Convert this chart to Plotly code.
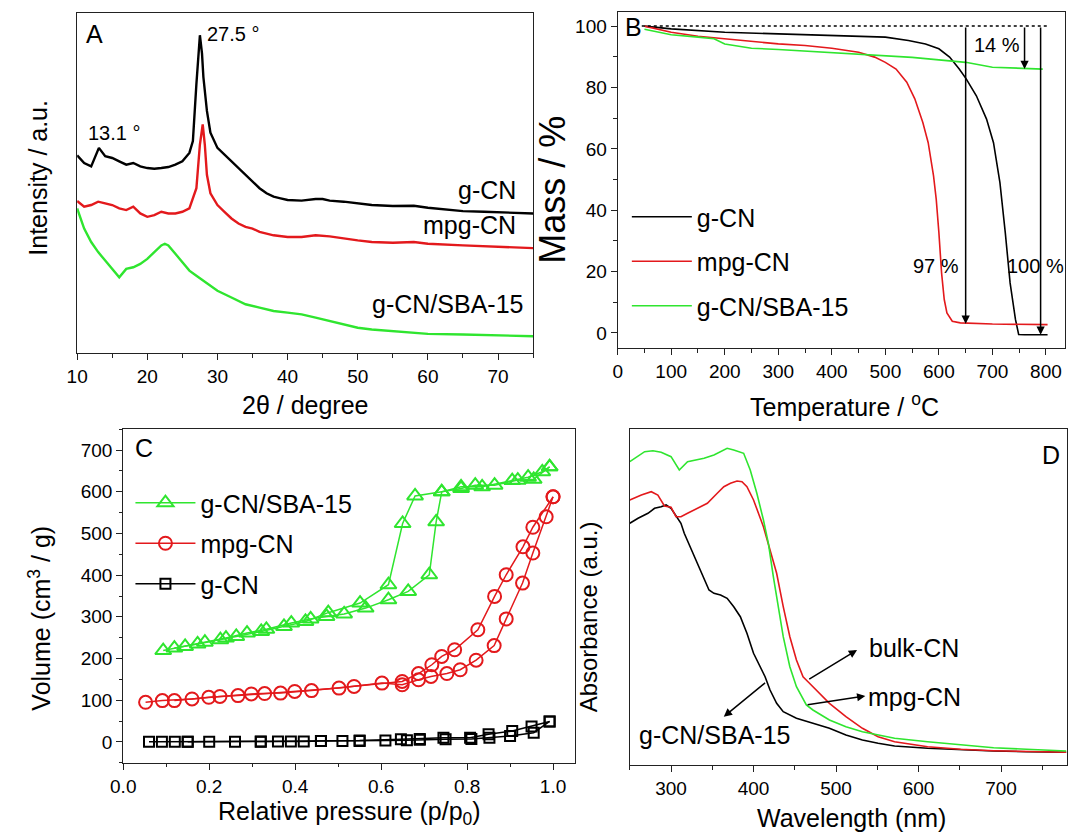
import plotly.graph_objects as go

FONT = "Liberation Sans, Arial, sans-serif"
BLACK = "#000000"
RED = "#e3191c"
GREEN = "#2fe52f"

# ---------------- Panel A : XRD ----------------
xrd_gcn_2theta = [10, 11, 12, 13.1, 14, 15, 16, 17, 18, 19, 20, 21, 22, 23, 24, 25, 26, 26.5, 27, 27.3, 27.5,
                  27.8, 28, 28.5, 29, 30, 31, 32, 33, 34, 35, 36, 37, 38, 39, 40, 42, 44, 45, 46, 48, 50, 52,
                  55, 58, 60, 62, 65, 68, 70, 72, 75]
xrd_gcn_int = [58.8, 56.5, 55.5, 61, 58.5, 58, 57, 56, 56.5, 55.5, 55, 54.8, 55, 55.3, 56, 57, 59.5, 63, 80, 91,
               94.5, 89, 82, 72, 65.5, 61, 59, 57, 55, 53, 51, 49, 47.5, 46.5, 46, 45.5, 45.3, 45.8, 45.8,
               45.3, 45, 44.5, 44, 43.7, 43.8, 43.2, 42.8, 42.2, 42, 41.8, 41.7, 41.5]

xrd_mpg_2theta = [10, 11, 12, 13, 14, 15, 16, 17, 18, 19, 20, 21, 22, 23, 24, 25, 26, 27, 27.5, 27.9, 28.2,
                  28.5, 29, 30, 31, 32, 33, 34, 35, 36, 38, 40, 42, 44, 46, 48, 50, 52, 55, 58, 60, 65, 70, 75]
xrd_mpg_int = [45.2, 43.5, 44, 45, 44.5, 44, 43, 42.5, 43.5, 41.5, 40.5, 41, 42, 41.5, 41.5, 42, 43, 49, 62,
               68, 62, 53, 47.5, 44, 42, 40, 38.5, 37.5, 37, 36, 35, 34.5, 34.5, 35, 34.7, 34, 33.5, 33,
               32.8, 33, 32.5, 32, 31.5, 31.2]

xrd_sba_2theta = [10, 11, 12, 13, 14, 15, 15.5, 16, 17, 18, 19, 20, 21, 22, 22.5, 23, 24, 25, 26, 27, 28, 29,
                  30, 32, 34, 36, 38, 40, 42, 44, 46, 48, 50, 52, 55, 58, 60, 65, 70, 75]
xrd_sba_int = [43, 37, 33, 30, 27.5, 25, 23.5, 22.5, 25, 25.5, 26.5, 28, 30, 32, 32.5, 32, 29.5, 27, 24.5,
               23, 21.5, 20, 18.5, 16.5, 14.5, 13.5, 12.5, 12, 11.5, 10.5, 9.5, 8.5, 7.5, 7, 6.5, 6, 5.7,
               5.5, 5.2, 5]

# ---------------- Panel B : TGA ----------------
tga_gcn_T = [50, 100, 200, 300, 400, 500, 543, 575, 600, 620, 638, 651, 670, 689, 702, 714, 724, 733, 743,
             749, 760, 803]
tga_gcn_m = [100, 99.1, 98, 97.5, 97, 96.4, 95.3, 94.2, 92.6, 89.9, 86, 82.8, 77.3, 69.7, 62, 49, 32.7,
             16.3, 4.4, -0.5, -0.6, -0.6]
tga_mpg_T = [50, 100, 150, 200, 250, 300, 350, 400, 450, 480, 500, 520, 540, 555, 570, 580, 590, 595, 600,
             605, 610, 615, 625, 640, 700, 803]
tga_mpg_m = [100, 98, 96.7, 95.9, 95, 94.2, 93.7, 92.8, 91.5, 89.9, 88.2, 86, 81.7, 76.3, 68.6, 62, 51.2,
             43.6, 32.7, 19.6, 10.9, 6.5, 3.8, 3.3, 2.9, 2.7]
tga_sba_T = [50, 100, 150, 180, 200, 250, 300, 400, 500, 550, 600, 650, 700, 750, 794]
tga_sba_m = [99, 97.2, 96.4, 95.9, 94.2, 92.8, 92.4, 91.3, 90.4, 89.8, 89, 88.2, 86.6, 86.3, 86]

# ---------------- Panel C : N2 isotherms ----------------
iso_sba_ads_p = [0.093, 0.144, 0.19, 0.239, 0.288, 0.333, 0.391, 0.436, 0.473, 0.514, 0.564, 0.617, 0.663,
                 0.712, 0.728, 0.741, 0.786, 0.835, 0.905, 0.942, 0.975, 0.992]
iso_sba_ads_v = [219, 229, 239, 249, 261, 270, 285, 295, 301, 307, 321, 341, 361, 401, 528, 600, 612, 612,
                 627, 635, 648, 660]
iso_sba_des_p = [0.992, 0.955, 0.918, 0.864, 0.819, 0.786, 0.741, 0.679, 0.65, 0.617, 0.551, 0.477, 0.424,
                 0.374, 0.321, 0.263, 0.226, 0.173, 0.119]
iso_sba_des_v = [660, 630, 628, 616, 616, 608, 600, 590, 524, 377, 333, 310, 289, 277, 265, 253, 245, 235, 225]

iso_mpg_ads_p = [0.052, 0.091, 0.16, 0.199, 0.267, 0.329, 0.399, 0.502, 0.602, 0.649, 0.687, 0.716, 0.753,
                 0.784, 0.821, 0.863, 0.891, 0.929, 0.953, 0.984, 1.0]
iso_mpg_ads_v = [95, 99, 103, 107, 111, 116, 121, 129, 141, 137, 149, 157, 164, 173, 196, 231, 295, 381, 453,
                 540, 588]
iso_mpg_des_p = [1.0, 0.953, 0.93, 0.891, 0.864, 0.825, 0.771, 0.741, 0.718, 0.687, 0.649, 0.537, 0.438,
                 0.366, 0.298, 0.225, 0.119]
iso_mpg_des_v = [588, 515, 468, 401, 349, 269, 221, 205, 185, 164, 145, 133, 123, 117, 115, 109, 99]

iso_gcn_ads_p = [0.06, 0.09, 0.12, 0.15, 0.2, 0.26, 0.32, 0.36, 0.42, 0.46, 0.51, 0.55, 0.61, 0.66, 0.69,
                 0.75, 0.81, 0.852, 0.9, 0.955, 0.992]
iso_gcn_ads_v = [0, 0, 0, 0, 0, 0, 0, 1, 1, 2, 2, 2, 3, 4, 5, 6, 7, 10, 14, 22, 49]
iso_gcn_des_p = [0.992, 0.95, 0.905, 0.85, 0.807, 0.745, 0.69, 0.646, 0.55, 0.46, 0.39, 0.32, 0.15]
iso_gcn_des_v = [49, 37, 26, 18, 10, 10, 7, 6, 3, 2, 1, 1, 0]

# ---------------- Panel D : UV-vis ----------------
uv_green_wl = [250, 268, 278, 288, 300, 310, 320, 340, 352, 360, 368, 376, 388, 396, 404, 412, 418, 424, 430,
               436, 444, 452, 464, 472, 492, 512, 532, 571, 611, 651, 691, 731, 779]
uv_green_abs = [303.3, 313.3, 314.3, 312.7, 308.3, 295, 303.3, 306.7, 310, 313.3, 316.7, 315, 311.7, 295,
                271.7, 245, 221.7, 188.3, 158.3, 128.3, 98.3, 78.3, 60, 55, 45, 38.3, 33.3, 26.7, 23.3, 20,
                17.3, 15.7, 14]
uv_red_wl = [250, 264, 276, 284, 292, 300, 306, 312, 320, 332, 344, 356, 364, 372, 380, 386, 392, 400, 408,
             412, 420, 428, 436, 444, 452, 460, 466, 476, 492, 512, 532, 551, 571, 611, 651, 691, 731, 779]
uv_red_abs = [265, 270, 273.3, 270, 259, 257.7, 248.3, 248.3, 251.7, 256.7, 261.7, 271.7, 278.3, 281.7, 284,
              283.3, 278.3, 265, 248.3, 238.3, 215, 191.7, 158.3, 128.3, 105, 88.3, 83.3, 75, 61.7, 48.3,
              36.7, 28.3, 23.3, 18.3, 15.7, 14.3, 13.3, 12.7]
uv_black_wl = [250, 260, 272, 280, 288, 294, 300, 308, 312, 316, 324, 332, 340, 346, 352, 360, 368, 376, 384,
               392, 400, 408, 414, 420, 428, 436, 444, 452, 472, 492, 512, 532, 551, 571, 611, 651, 691, 731,
               779]
uv_black_abs = [241.7, 246.7, 251.7, 256.7, 258.3, 260, 256.7, 246.7, 241.7, 231.7, 216.7, 201.7, 185, 175,
                171.7, 170, 166.7, 158.3, 148.3, 131.7, 111.7, 98.3, 88.3, 75, 61.7, 53.3, 50, 46.7, 41.7,
                36.7, 30, 25, 21.7, 19, 16.7, 15, 14, 13.3, 12.7]


def px_x(p):
    return p / 1068.0


def px_y(p):
    return 1 - p / 836.0


fig = go.Figure()

# Panel A traces
for xs, ys, c in [(xrd_gcn_2theta, xrd_gcn_int, BLACK), (xrd_mpg_2theta, xrd_mpg_int, RED),
                  (xrd_sba_2theta, xrd_sba_int, GREEN)]:
    fig.add_trace(go.Scatter(x=xs, y=ys, mode="lines", line=dict(color=c, width=2.4),
                             xaxis="x", yaxis="y", showlegend=False))

# Panel B traces
for xs, ys, c, name in [(tga_gcn_T, tga_gcn_m, BLACK, "g-CN"),
                        (tga_mpg_T, tga_mpg_m, RED, "mpg-CN"),
                        (tga_sba_T, tga_sba_m, GREEN, "g-CN/SBA-15")]:
    fig.add_trace(go.Scatter(x=xs, y=ys, mode="lines", line=dict(color=c, width=1.6), name=name,
                             xaxis="x2", yaxis="y2", legend="legend", legendgroup="B" + name))

# Panel C traces
series_c = [
    (iso_sba_ads_p, iso_sba_ads_v, iso_sba_des_p, iso_sba_des_v, GREEN, "triangle-up-open", 14, "g-CN/SBA-15"),
    (iso_mpg_ads_p, iso_mpg_ads_v, iso_mpg_des_p, iso_mpg_des_v, RED, "circle-open", 13, "mpg-CN"),
    (iso_gcn_ads_p, iso_gcn_ads_v, iso_gcn_des_p, iso_gcn_des_v, BLACK, "square-open", 10, "g-CN"),
]
for ap, av, dp, dv, c, sym, sz, name in series_c:
    mk = dict(symbol=sym, size=sz, color=c, line=dict(color=c, width=2))
    fig.add_trace(go.Scatter(x=ap, y=av, mode="lines+markers", line=dict(color=c, width=1.5), marker=mk,
                             name=name, xaxis="x3", yaxis="y3", legend="legend2",
                             legendgroup="C" + name))
    fig.add_trace(go.Scatter(x=dp, y=dv, mode="lines+markers", line=dict(color=c, width=1.5), marker=mk,
                             name=name, xaxis="x3", yaxis="y3", showlegend=False, legend="legend2",
                             legendgroup="C" + name))

# Panel D traces
for xs, ys, c in [(uv_black_wl, uv_black_abs, BLACK), (uv_red_wl, uv_red_abs, RED),
                  (uv_green_wl, uv_green_abs, GREEN)]:
    fig.add_trace(go.Scatter(x=xs, y=ys, mode="lines", line=dict(color=c, width=1.6),
                             xaxis="x4", yaxis="y4", showlegend=False))

TICKF = dict(family=FONT, size=19, color="black")


def xa(domain, rng, dtick, tick0, minor, anchor):
    return dict(domain=domain, range=rng, anchor=anchor, showline=True, linecolor="#222", linewidth=1.2,
                mirror=True, ticks="outside", ticklen=6, tickwidth=1.2, tickcolor="#222", dtick=dtick,
                tick0=tick0, tickfont=TICKF, showgrid=False, zeroline=False,
                minor=dict(dtick=minor, ticks="outside", ticklen=3.5, tickwidth=1.2, tickcolor="#222",
                           showgrid=False))


def ya_plain(domain, rng, anchor):
    return dict(domain=domain, range=rng, anchor=anchor, showline=True, linecolor="#222", linewidth=1.2,
                mirror=True, ticks="", showticklabels=False, showgrid=False, zeroline=False)


fig.update_layout(
    width=1068, height=836, margin=dict(l=0, r=0, t=0, b=0),
    paper_bgcolor="white", plot_bgcolor="white",
    font=dict(family=FONT, color="black"),
    xaxis=xa([px_x(65), px_x(527)], [10, 75], 10, 10, 5, "y"),
    yaxis=ya_plain([px_y(353), px_y(12.7)], [0, 101.2], "x"),
    xaxis2=xa([px_x(612.7), px_x(1066)], [0, 835.6], 100, 0, 50, "y2"),
    yaxis2=xa([px_y(348.3), px_y(11.7)], [-5, 104.7], 20, 0, 10, "x2"),
    xaxis3=xa([px_x(111.7), px_x(569)], [0, 1.05], 0.2, 0, 0.1, "y3"),
    yaxis3=xa([px_y(762.7), px_y(429.3)], [-50, 750], 100, 0, 50, "x3"),
    xaxis4=xa([px_x(625), 1.0], [250, 780], 100, 300, 50, "y4"),
    yaxis4=ya_plain([px_y(765), px_y(429.3)], [0, 335.7], "x4"),
    legend=dict(x=px_x(622), y=px_y(194), xanchor="left", yanchor="top", bgcolor="rgba(0,0,0,0)",
                font=dict(family=FONT, size=25, color="black"), itemwidth=60, tracegroupgap=9,
                traceorder="grouped"),
    legend2=dict(x=px_x(119), y=px_y(480), xanchor="left", yanchor="top", bgcolor="rgba(0,0,0,0)",
                 font=dict(family=FONT, size=25, color="black"), itemwidth=60, tracegroupgap=5,
                 traceorder="grouped"),
)
fig.update_layout(yaxis2=dict(tickformat="d"), yaxis3=dict(tickformat="d"),
                  xaxis3=dict(tickformat=".1f"))

ann = []


def txt(text, x, y, xref, yref, size, xanchor="center", yanchor="middle", angle=0):
    ann.append(dict(text=text, x=x, y=y, xref=xref, yref=yref, showarrow=False, xanchor=xanchor,
                    yanchor=yanchor, textangle=angle, font=dict(family=FONT, size=size, color="black")))


# axis titles
txt("2θ / degree", px_x(296), px_y(405), "paper", "paper", 25)
txt("Intensity / a.u.", px_x(25), px_y(178), "paper", "paper", 25, angle=-90)
txt("Temperature / <sup>o</sup>C", px_x(843), px_y(405), "paper", "paper", 25)
txt("Mass / %", px_x(546), px_y(190), "paper", "paper", 36, angle=-90)
txt("Relative pressure (p/p<sub>0</sub>)", px_x(341), px_y(813), "paper", "paper", 25)
txt("Volume (cm<sup>3</sup> / g)", px_x(27), px_y(618), "paper", "paper", 25, angle=-90)
txt("Wavelength (nm)", px_x(850), px_y(818), "paper", "paper", 25)
txt("Absorbance (a.u.)", px_x(583), px_y(617), "paper", "paper", 24, angle=-90)

# panel A labels
txt("A", 12.5, 95, "x", "y", 25)
txt("27.5 °", 32.2, 95, "x", "y", 20)
txt("13.1 °", 15.2, 65.5, "x", "y", 20)
txt("g-CN", 72.8, 48.5, "x", "y", 25, xanchor="right")
txt("mpg-CN", 72.8, 38, "x", "y", 25, xanchor="right")
txt("g-CN/SBA-15", 73.8, 14.5, "x", "y", 25, xanchor="right")

# panel B labels
txt("B", 30, 99.7, "x2", "y2", 25)
txt("14 %", 708, 93.7, "x2", "y2", 20)
txt("97 %", 594, 21.8, "x2", "y2", 20)
txt("100 %", 781, 21.8, "x2", "y2", 20)

# panel C / D labels
txt("C", 0.049, 704, "x3", "y3", 25)
txt("D", 761, 310, "x4", "y4", 25)
txt("bulk-CN", 595, 116.7, "x4", "y4", 25)
txt("mpg-CN", 595, 68.3, "x4", "y4", 25)
txt("g-CN/SBA-15", 352.7, 30, "x4", "y4", 25)


def arrow(x0, y0, x1, y1, xr, yr, width=1.5):
    ann.append(dict(x=x1, y=y1, ax=x0, ay=y0, xref=xr, yref=yr, axref=xr, ayref=yr, text="",
                    showarrow=True, arrowhead=2, arrowsize=1.1, arrowwidth=width, arrowcolor="black"))


arrow(650, 100, 650, 3, "x2", "y2")
arrow(790, 100, 790, -0.6, "x2", "y2")
arrow(760, 100, 760, 86, "x2", "y2")
arrow(465.7, 85, 525.5, 115, "x4", "y4")
arrow(463.7, 60, 535.5, 69, "x4", "y4")
arrow(415.8, 83.3, 363.9, 48.3, "x4", "y4")

fig.update_layout(annotations=ann)

fig.add_shape(type="line", x0=45, x1=805, y0=100, y1=100, xref="x2", yref="y2",
              line=dict(color="black", width=1.5, dash="dot"))

fig.write_html("out.html", config={"displayModeBar": False},
               post_script="document.body.style.margin='0px';document.body.style.overflow='hidden';")
